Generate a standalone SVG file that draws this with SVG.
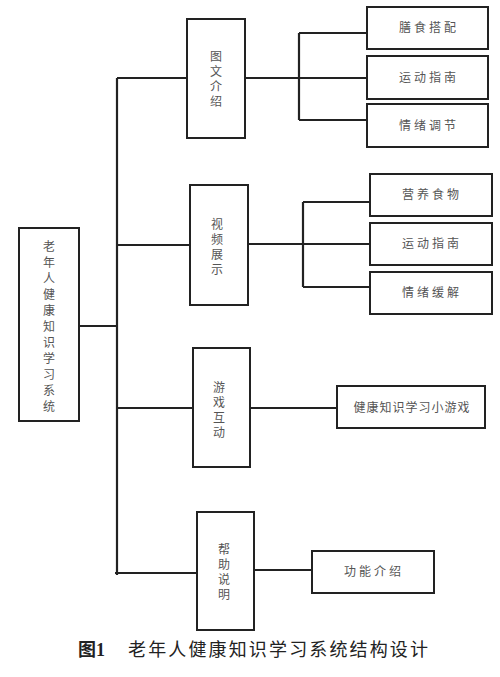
<svg xmlns="http://www.w3.org/2000/svg" width="500" height="677" viewBox="0 0 500 677">
<style>
.box{fill:#fff;stroke:#222;stroke-width:2}
.ln{fill:none;stroke:#222;stroke-width:2.2}
.t{font-family:"Noto Sans CJK SC","Noto Sans CJK TC",sans-serif;font-size:12px;fill:#555;text-anchor:middle}
.v{writing-mode:vertical-rl;letter-spacing:3px}
.h{letter-spacing:3px}
.cap{font-family:"Noto Sans CJK SC",sans-serif;font-size:18px;fill:#222}
</style>
<rect width="500" height="677" fill="#fff"/>
<g id="connectors">
<path class="ln" d="M79 326H117M117 78V575M117 78H187M117 245H190M117 408H193M115 573H197"/>
<path class="ln" d="M245 78H367M299 33V120M299 33H367M299 120H367"/>
<path class="ln" d="M248 244H370M303 202V287M303 202H370M303 287H370"/>
<path class="ln" d="M250 408H337"/>
<path class="ln" d="M254 570H312"/>
</g>
<g id="root"><rect class="box" x="19" y="228" width="60" height="193"/>
<text class="t v" x="49" y="328" style="letter-spacing:4px">老年人健康知识学习系统</text></g>
<g id="n1"><rect class="box" x="187" y="19" width="58" height="119"/>
<text class="t v" x="216" y="80">图文介绍</text></g>
<g id="n2"><rect class="box" x="190" y="185" width="58" height="120"/>
<text class="t v" x="217" y="248">视频展示</text></g>
<g id="n3"><rect class="box" x="193" y="348" width="57" height="119"/>
<text class="t v" x="219" y="411">游戏互动</text></g>
<g id="n4"><rect class="box" x="197" y="512" width="57" height="118"/>
<text class="t v" x="224" y="573">帮助说明</text></g>
<g id="a1"><rect class="box" x="367" y="7" width="121" height="42"/><text class="t h" x="429" y="32">膳食搭配</text></g>
<g id="a2"><rect class="box" x="367" y="56" width="121" height="43"/><text class="t h" x="429" y="82">运动指南</text></g>
<g id="a3"><rect class="box" x="367" y="104" width="121" height="43"/><text class="t h" x="429" y="130">情绪调节</text></g>
<g id="b1"><rect class="box" x="370" y="174" width="122" height="42"/><text class="t h" x="432" y="199">营养食物</text></g>
<g id="b2"><rect class="box" x="370" y="223" width="122" height="42"/><text class="t h" x="432" y="248">运动指南</text></g>
<g id="b3"><rect class="box" x="370" y="272" width="122" height="42"/><text class="t h" x="432" y="297">情绪缓解</text></g>
<g id="c1"><rect class="box" x="337" y="386" width="148" height="42"/><text class="t" x="412" y="412" style="letter-spacing:1px">健康知识学习小游戏</text></g>
<g id="d1"><rect class="box" x="312" y="551" width="122" height="42"/><text class="t h" x="374" y="576">功能介绍</text></g>
<g id="caption">
<text class="cap" x="78" y="656" style="font-family:'Liberation Serif','Noto Sans CJK SC',serif;font-weight:bold">图1</text>
<text class="cap" x="128" y="656" textLength="300" lengthAdjust="spacing">老年人健康知识学习系统结构设计</text>
</g>
</svg>
